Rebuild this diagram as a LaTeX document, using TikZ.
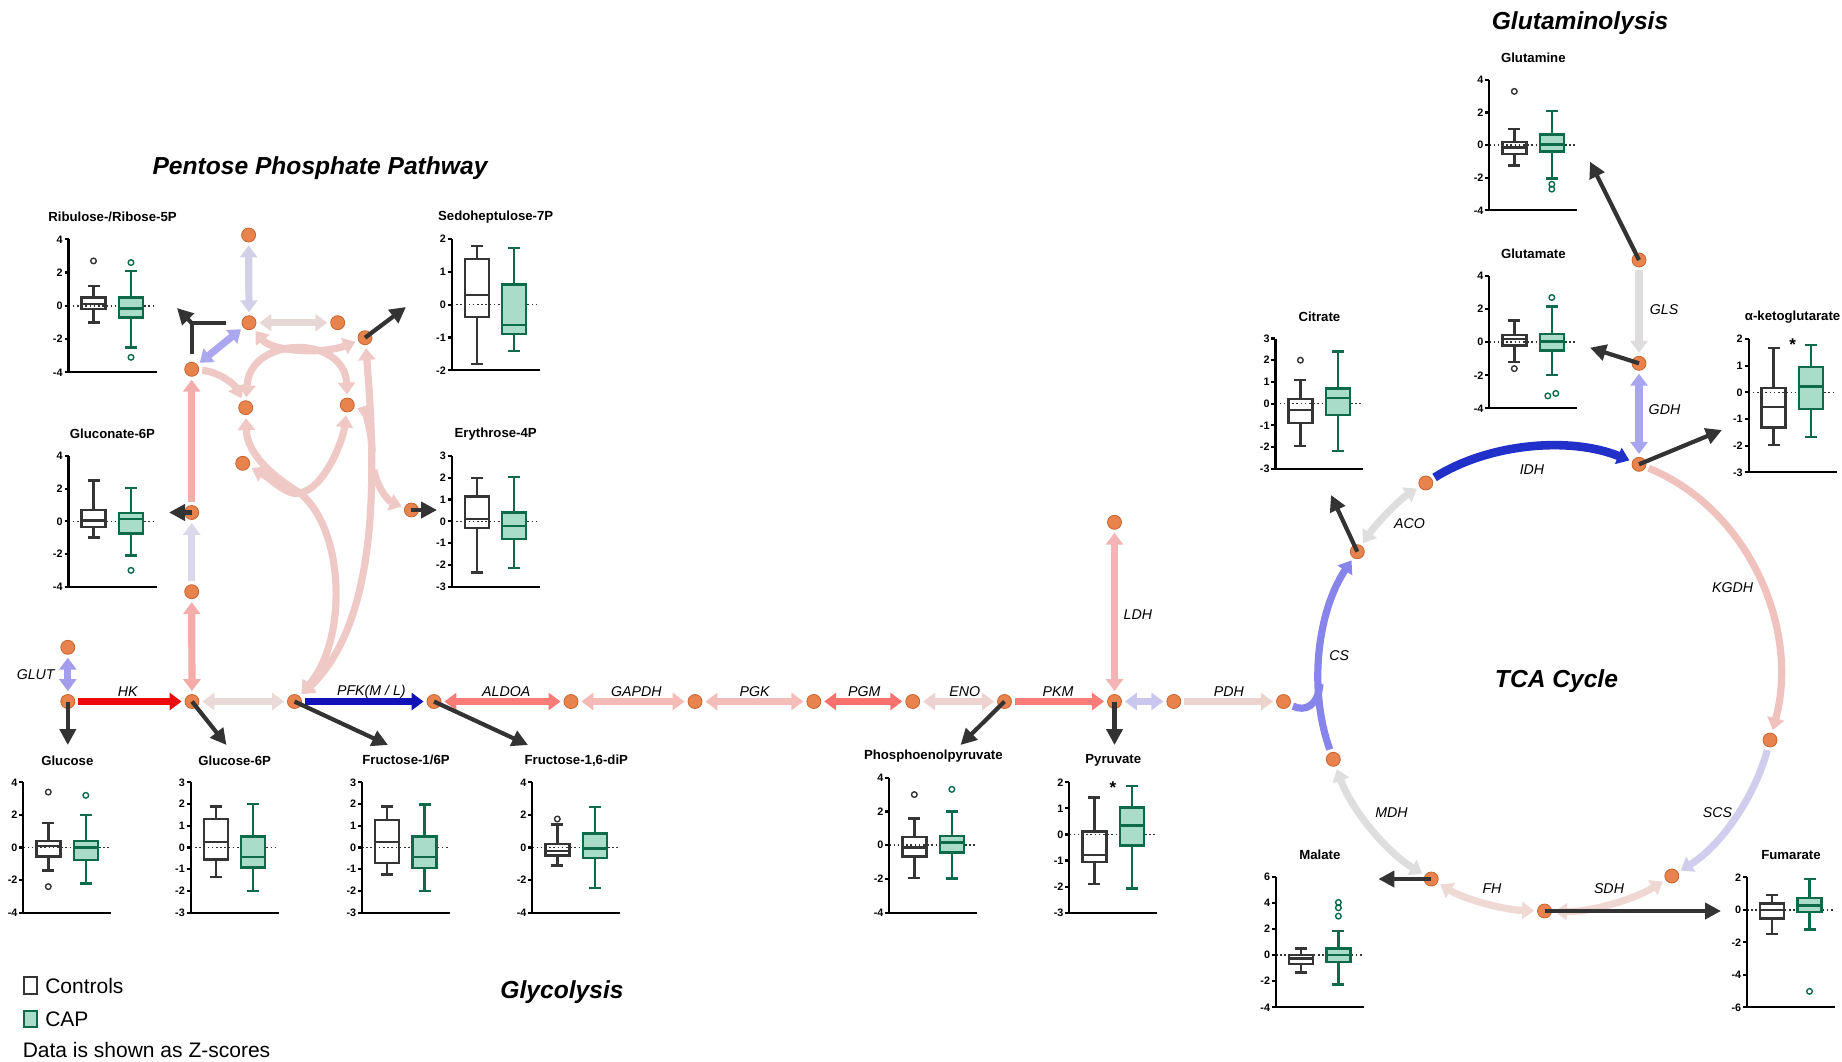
\documentclass[tikz,border=0pt]{standalone}
\usepackage{fontspec}
\setmainfont{Liberation Sans}
\usetikzlibrary{arrows.meta}

% metabolites and plot colours
\definecolor{metfill}{HTML}{E8834D}
\definecolor{metedge}{HTML}{C8642E}
\definecolor{arrdark}{HTML}{333333}
\definecolor{ctlc}{HTML}{353535}
\definecolor{capc}{HTML}{0E6B49}
\definecolor{capf}{HTML}{A9DCC9}
% enzyme colours
\definecolor{cGLUT}{HTML}{A29EEB}
\definecolor{cHK}{HTML}{EE0A0A}
\definecolor{cGPI}{HTML}{E9D9D7}
\definecolor{cPFK}{HTML}{1212B8}
\definecolor{cALDOA}{HTML}{F97C77}
\definecolor{cGAPDH}{HTML}{F3BAB6}
\definecolor{cPGK}{HTML}{F3BEBA}
\definecolor{cPGM}{HTML}{F8716C}
\definecolor{cENO}{HTML}{EDD2CF}
\definecolor{cPKM}{HTML}{F97C77}
\definecolor{cLDH}{HTML}{F2B4B4}
\definecolor{cMPC}{HTML}{C9C7EE}
\definecolor{cPDH}{HTML}{EDD3CE}
\definecolor{cCS}{HTML}{8784EC}
\definecolor{cACO}{HTML}{DEDEDE}
\definecolor{cIDH}{HTML}{2030C8}
\definecolor{cKGDH}{HTML}{F0C2BE}
\definecolor{cSCS}{HTML}{D0CEEC}
\definecolor{cSDH}{HTML}{EFD7D3}
\definecolor{cFH}{HTML}{EFD9D5}
\definecolor{cMDH}{HTML}{DEDEDE}
\definecolor{cGLS}{HTML}{DEDCDC}
\definecolor{cGDH}{HTML}{A8A6F0}
\definecolor{cPRPP}{HTML}{D2D0E8}
\definecolor{cRPE}{HTML}{E7D7D5}
\definecolor{cRPI}{HTML}{ABA7EF}
\definecolor{cPGD}{HTML}{F3AEAC}
\definecolor{cPGLS}{HTML}{DAD8EA}
\definecolor{cGsixPD}{HTML}{F4ACAA}
\definecolor{cTKT}{HTML}{EFC9C6}

\tikzset{
  met/.style={circle,fill=metfill,draw=metedge,line width=0.4pt,minimum size=7pt,inner sep=0pt},
  rx/.style={draw=#1,line width=3.6pt,shorten >=1.5pt,shorten <=1.5pt},
  fw/.style={-{Triangle[length=6pt,width=8.5pt]}},
  dbl/.style={{Triangle[length=6pt,width=8.5pt]}-{Triangle[length=6pt,width=8.5pt]}},
  blk/.style={draw=arrdark,line width=2.1pt,-{Triangle[length=8pt,width=8pt]}},
  blkline/.style={draw=arrdark,line width=2.1pt},
  enz/.style={font=\itshape\fontsize{7.1}{8}\selectfont,inner sep=0pt},
  ptitle/.style={font=\bfseries\fontsize{6.6}{7.5}\selectfont,inner sep=0pt},
  tlab/.style={font=\bfseries\fontsize{5.4}{6}\selectfont,anchor=east,inner sep=0pt},
  axisl/.style={draw=black,line width=1.1pt},
  zline/.style={draw=arrdark,line width=0.8pt,dash pattern=on 0.8pt off 1.3pt},
  bpK/.style={draw=ctlc,line width=1.2pt},
  bpKbox/.style={bpK},
  bpP/.style={draw=capc,line width=1.2pt},
  bpPbox/.style={bpP,fill=capf},
  olK/.style={circle,draw=ctlc,line width=0.7pt,minimum size=2.8pt,inner sep=0pt},
  olP/.style={circle,draw=capc,line width=0.7pt,minimum size=2.8pt,inner sep=0pt},
  ttl/.style={font=\bfseries\itshape\fontsize{12.3}{14}\selectfont,inner sep=0pt},
  leg/.style={font=\fontsize{10.5}{12}\selectfont,inner sep=0pt,anchor=west},
  sig/.style={font=\bfseries\fontsize{8.5}{9}\selectfont,inner sep=0pt},
}

% box-and-whisker panel: title, axis x, y of max, y of min, min, max, step
\newenvironment{bxpanel}[7]{%
  \node[ptitle] at (#2+44,#3-22) {#1};
  \pgfmathsetmacro\bxppu{(#4-#3)/(#6-#5)}%
  \pgfmathsetmacro\bxzero{#4+(#5)*\bxppu}%
  \pgfmathtruncatemacro\bxsec{#5+#7}%
  \begin{scope}[shift={(#2,\bxzero)},yscale=-\bxppu]
  \draw[zline] (0,0) -- (88,0);
  \draw[axisl] (0,#6) -- (0,#5) -- (88,#5);
  \foreach \tk in {#5,\bxsec,...,#6}{
    \draw[axisl] (-4,\tk) -- (0,\tk);
    \node[tlab] at (-5.5,\tk) {\pgfmathtruncatemacro\tkl{\tk}\tkl};
  }
}{\end{scope}}

% one box: group (K or P), x centre, low whisker, Q1, median, Q3, high whisker
\newcommand\bxbox[7]{%
  \draw[bp#1] (#2,#7) -- (#2,#6) (#2,#4) -- (#2,#3)
              (#2-6,#7) -- (#2+6,#7) (#2-6,#3) -- (#2+6,#3);
  \draw[bp#1box] (#2-12,#4) rectangle (#2+12,#6);
  \draw[bp#1] (#2-12,#5) -- (#2+12,#5);
}

\begin{document}
\begin{tikzpicture}[x=0.5pt,y=-0.5pt]
\useasboundingbox (0,0) rectangle (1842,1061);

% ---------------- metabolites ----------------
% glycolysis
\node[met] (glutop) at (67.8,647.3) {};
\node[met] (glc) at (67.8,701.5) {};
\node[met] (g6p) at (192,701.5) {};
\node[met] (f6p) at (294.5,701.5) {};
\node[met] (f16) at (434,701.5) {};
\node[met] (gap) at (571,701.5) {};
\node[met] (bpg) at (695,701.5) {};
\node[met] (pgc) at (813.8,701.5) {};
\node[met] (pgb) at (912.7,701.5) {};
\node[met] (pep) at (1004.5,701.5) {};
\node[met] (pyr) at (1114.5,701.5) {};
\node[met] (lac) at (1114.5,522.3) {};
\node[met] (pyrm) at (1173.8,701.5) {};
\node[met] (accoa) at (1283.5,701.5) {};
% pentose phosphate pathway
\node[met] (pgl) at (191.7,591.7) {};
\node[met] (gnt) at (191.7,512.5) {};
\node[met] (ru5p) at (191.7,369.3) {};
\node[met] (r5p) at (249,322.7) {};
\node[met] (prpp) at (248.6,235) {};
\node[met] (x5p) at (337.7,322.7) {};
\node[met] (s7p) at (365,337.7) {};
\node[met] (gtp) at (245.7,407.7) {};
\node[met] (tkd) at (347.3,405) {};
\node[met] (tke) at (242.7,463.3) {};
\node[met] (e4p) at (411.4,510) {};
% TCA cycle and glutaminolysis
\node[met] (oaa) at (1333.3,759.3) {};
\node[met] (cit) at (1357.3,551.7) {};
\node[met] (icit) at (1425.8,483) {};
\node[met] (akg) at (1639,464.3) {};
\node[met] (scoa) at (1770,740) {};
\node[met] (suc) at (1671.8,876) {};
\node[met] (fum) at (1544.5,911) {};
\node[met] (mal) at (1431.2,879) {};
\node[met] (gln) at (1639,260) {};
\node[met] (glu) at (1639,363.3) {};

% ---------------- reactions ----------------
\draw[rx=cGLUT,dbl] (glutop) -- (glc);
\draw[rx=cHK,fw] (glc) -- (g6p);
\draw[rx=cGPI,dbl] (g6p) -- (f6p);
\draw[rx=cPFK,fw] (f6p) -- (f16);
\draw[rx=cALDOA,dbl] (f16) -- (gap);
\draw[rx=cGAPDH,dbl] (gap) -- (bpg);
\draw[rx=cPGK,dbl] (bpg) -- (pgc);
\draw[rx=cPGM,dbl] (pgc) -- (pgb);
\draw[rx=cENO,dbl] (pgb) -- (pep);
\draw[rx=cPKM,fw] (pep) -- (pyr);
\draw[rx=cLDH,dbl] (lac) -- (pyr);
\draw[rx=cMPC,dbl] (pyr) -- (pyrm);
\draw[rx=cPDH,fw] (pyrm) -- (accoa);

% oxidative branch
\draw[rx=cGsixPD,dbl] (g6p) -- (pgl);
\draw[rx=cPGLS,fw] (pgl) -- (gnt);
\draw[rx=cPGD,fw] (gnt) -- (ru5p);
\draw[rx=cRPI,dbl] (ru5p) -- (r5p);
\draw[rx=cPRPP,dbl] (r5p) -- (prpp);
\draw[rx=cRPE,dbl] (r5p) -- (x5p);

% non-oxidative branch
\coordinate (jb) at (300,493);
\coordinate (jd) at (372,452);
\coordinate (je) at (374,470);
\draw[rx=cTKT,dbl] (r5p) .. controls (272,352) and (325,354) .. (s7p);
\draw[rx=cTKT,dbl] (gtp) .. controls (250,335) and (345,335) .. (tkd);
\draw[rx=cTKT,fw] (ru5p) .. controls (220,372) and (235,385) .. (gtp);
\draw[rx=cTKT,dbl] (gtp) .. controls (247,455) and (275,478) .. (jb) .. controls (345,530) and (348,640) .. (f6p);
\draw[rx=cTKT,dbl] (tke) .. controls (270,478) and (288,497) .. (jb) .. controls (325,488) and (343,440) .. (tkd);
\draw[rx=cTKT,dbl] (s7p) .. controls (376,470) and (380,620) .. (f6p);
\draw[rx=cTKT,fw,shorten <=0pt] (jd) .. controls (372,425) and (362,410) .. (tkd);
\draw[rx=cTKT,fw,shorten <=0pt] (je) .. controls (378,492) and (392,503) .. (e4p);

% TCA cycle
\coordinate (csj) at (1320,684);
\draw[rx=cCS,fw] (oaa) .. controls (1308.5,690.4) and (1316.7,612.6) .. (cit);
\draw[rx=cCS,shorten >=0pt] (accoa) .. controls (1305,712) and (1318,706) .. (csj);
\draw[rx=cACO,dbl] (cit) .. controls (1375.3,524.7) and (1398.4,500.3) .. (icit);
\draw[rx=cIDH,fw,line width=4.3pt] (icit) .. controls (1488.8,443.2) and (1570,436.3) .. (akg);
\draw[rx=cKGDH,fw] (akg) .. controls (1747.1,508.2) and (1800.4,627.3) .. (scoa);
\draw[rx=cSCS,fw] (scoa) .. controls (1754.7,796.6) and (1721.6,845.1) .. (suc);
\draw[rx=cSDH,dbl] (suc) .. controls (1633.4,899.8) and (1589.7,912.3) .. (fum);
\draw[rx=cFH,dbl] (fum) .. controls (1504.5,909.9) and (1465.4,899.7) .. (mal);
\draw[rx=cMDH,dbl] (mal) .. controls (1385.9,851.6) and (1351.2,809.1) .. (oaa);
\draw[rx=cGLS,fw] (gln) -- (glu);
\draw[rx=cGDH,dbl] (glu) -- (akg);

% ---------------- enzyme labels ----------------
\node[enz] at (35.7,675) {GLUT};
\node[enz] at (127.8,691.7) {HK};
\node[enz] at (371.4,691.7) {PFK(M / L)};
\node[enz] at (506.3,691.7) {ALDOA};
\node[enz] at (636.3,691.7) {GAPDH};
\node[enz] at (754.6,691.7) {PGK};
\node[enz] at (864.3,691.7) {PGM};
\node[enz] at (964.7,691.7) {ENO};
\node[enz] at (1058,691.7) {PKM};
\node[enz] at (1228.9,691.7) {PDH};
\node[enz,anchor=west] at (1123.3,615) {LDH};
\node[enz] at (1339.2,655.5) {CS};
\node[enz] at (1409.6,524) {ACO};
\node[enz] at (1532,470) {IDH};
\node[enz] at (1732.7,587.4) {KGDH};
\node[enz] at (1717.4,812.9) {SCS};
\node[enz] at (1609,888.3) {SDH};
\node[enz] at (1492,888.3) {FH};
\node[enz] at (1391.5,812.8) {MDH};
\node[enz] at (1664,309.3) {GLS};
\node[enz] at (1664.5,409.3) {GDH};

% ---------------- pathway titles ----------------
\node[ttl] at (320,168) {Pentose Phosphate Pathway};
\node[ttl] at (1580,23.5) {Glutaminolysis};
\node[ttl] at (1556.5,681.3) {TCA Cycle};
\node[ttl] at (562,992) {Glycolysis};

% ---------------- box plots ----------------
\begin{bxpanel}{Ribulose-/Ribose-5P}{68.5}{239.3}{372.3}{-4}{4}{2}
  \bxbox{K}{25}{-1}{-0.2}{0.1}{0.5}{1.2}
  \bxbox{P}{62.5}{-2.5}{-0.7}{-0.15}{0.5}{2.1}
  \node[olK] at (25,2.7) {};
  \node[olP] at (62.5,2.6) {};
  \node[olP] at (62.5,-3.1) {};
\end{bxpanel}
\begin{bxpanel}{Gluconate-6P}{68.5}{456}{586.7}{-4}{4}{2}
  \bxbox{K}{25}{-1}{-0.35}{0.05}{0.7}{2.5}
  \bxbox{P}{62.5}{-2.1}{-0.75}{0.15}{0.5}{2.05}
  \node[olP] at (62.5,-3) {};
\end{bxpanel}
\begin{bxpanel}{Sedoheptulose-7P}{451.7}{239}{370.3}{-2}{2}{1}
  \bxbox{K}{25}{-1.8}{-0.37}{0.3}{1.4}{1.78}
  \bxbox{P}{62.5}{-1.42}{-0.9}{-0.62}{0.62}{1.73}
\end{bxpanel}
\begin{bxpanel}{Erythrose-4P}{451.7}{456}{586.7}{-3}{3}{1}
  \bxbox{K}{25}{-2.35}{-0.3}{0.1}{1.15}{2.0}
  \bxbox{P}{62.5}{-2.15}{-0.8}{-0.2}{0.4}{2.05}
\end{bxpanel}
\begin{bxpanel}{Glucose}{23.3}{782.3}{912.7}{-4}{4}{2}
  \bxbox{K}{25}{-1.4}{-0.55}{0.1}{0.4}{1.5}
  \bxbox{P}{62.5}{-2.2}{-0.75}{0}{0.4}{2.0}
  \node[olK] at (25,3.4) {};
  \node[olK] at (25,-2.4) {};
  \node[olP] at (62.5,3.2) {};
\end{bxpanel}
\begin{bxpanel}{Glucose-6P}{190.7}{782.3}{912.7}{-3}{3}{1}
  \bxbox{K}{25}{-1.35}{-0.55}{0.25}{1.3}{1.88}
  \bxbox{P}{62.5}{-2}{-0.92}{-0.45}{0.5}{2}
\end{bxpanel}
\begin{bxpanel}{Fructose-1/6P}{362}{782.3}{912.7}{-3}{3}{1}
  \bxbox{K}{25}{-1.25}{-0.7}{0.25}{1.27}{1.88}
  \bxbox{P}{62.5}{-2}{-0.95}{-0.45}{0.5}{1.97}
\end{bxpanel}
\begin{bxpanel}{Fructose-1,6-diP}{532.3}{782.3}{912.7}{-4}{4}{2}
  \bxbox{K}{25}{-1.1}{-0.5}{-0.2}{0.2}{1.4}
  \bxbox{P}{62.5}{-2.5}{-0.65}{-0.05}{0.85}{2.5}
  \node[olK] at (25,1.75) {};
\end{bxpanel}
\begin{bxpanel}{Phosphoenolpyruvate}{889.3}{777.7}{912.7}{-4}{4}{2}
  \bxbox{K}{25}{-1.93}{-0.68}{-0.13}{0.5}{1.59}
  \bxbox{P}{62.5}{-1.97}{-0.42}{0.15}{0.54}{1.99}
  \node[olK] at (25,3.0) {};
  \node[olP] at (62.5,3.31) {};
\end{bxpanel}
\begin{bxpanel}{Pyruvate}{1069.3}{782.3}{912.7}{-3}{2}{1}
  \bxbox{K}{25}{-1.9}{-1.05}{-0.79}{0.11}{1.42}
  \bxbox{P}{62.5}{-2.07}{-0.42}{0.35}{1.03}{1.86}
  \node[sig] at (43.5,1.8) {*};
\end{bxpanel}
\begin{bxpanel}{Citrate}{1275.4}{338.5}{468.7}{-3}{3}{1}
  \bxbox{K}{25}{-1.95}{-0.88}{-0.3}{0.2}{1.08}
  \bxbox{P}{62.5}{-2.18}{-0.52}{0.27}{0.7}{2.4}
  \node[olK] at (25,2.0) {};
\end{bxpanel}
\begin{bxpanel}{Glutamine}{1489.3}{80}{210.3}{-4}{4}{2}
  \bxbox{K}{25}{-1.25}{-0.55}{-0.15}{0.2}{1}
  \bxbox{P}{62.5}{-2.05}{-0.4}{0.05}{0.65}{2.1}
  \node[olK] at (25,3.3) {};
  \node[olP] at (62.5,-2.4) {};
  \node[olP] at (62.5,-2.7) {};
\end{bxpanel}
\begin{bxpanel}{Glutamate}{1489.3}{276}{408.3}{-4}{4}{2}
  \bxbox{K}{25}{-1.2}{-0.2}{0.2}{0.45}{1.3}
  \bxbox{P}{62.5}{-2}{-0.5}{0.05}{0.5}{2.15}
  \node[olK] at (25,-1.6) {};
  \node[olP] at (62.5,2.7) {};
  \node[olP] at (58.5,-3.25) {};
  \node[olP] at (66.5,-3.1) {};
\end{bxpanel}
\begin{bxpanel}{α-ketoglutarate}{1748.6}{339}{472.3}{-3}{2}{1}
  \bxbox{K}{25}{-1.97}{-1.32}{-0.55}{0.17}{1.67}
  \bxbox{P}{62.5}{-1.67}{-0.63}{0.22}{0.95}{1.77}
  \node[sig] at (44,1.8) {*};
\end{bxpanel}
\begin{bxpanel}{Malate}{1275.9}{876.7}{1007.3}{-4}{6}{2}
  \bxbox{K}{25}{-1.33}{-0.69}{-0.26}{0.02}{0.51}
  \bxbox{P}{62.5}{-2.24}{-0.51}{0}{0.51}{1.86}
  \node[olP] at (62.5,4.03) {};
  \node[olP] at (62.5,3.62) {};
  \node[olP] at (62.5,2.98) {};
\end{bxpanel}
\begin{bxpanel}{Fumarate}{1747}{877.3}{1007.3}{-6}{2}{2}
  \bxbox{K}{25}{-1.47}{-0.54}{-0.01}{0.4}{0.91}
  \bxbox{P}{62.5}{-1.22}{-0.13}{0.26}{0.73}{1.88}
  \node[olP] at (62.5,-5.02) {};
\end{bxpanel}

% ---------------- links from metabolites to their plots ----------------
\coordinate (tglc) at (67.8,745);
\coordinate (tg6p) at (226.5,745);
\coordinate (tf6p) at (388,745);
\coordinate (tf16) at (528,745);
\coordinate (tpep) at (960.5,745);
\coordinate (tpyr) at (1114.5,745);
\coordinate (ts7p) at (406,307);
\coordinate (tgnt) at (169,512.5);
\coordinate (te4p) at (437,510);
\coordinate (tcit) at (1331,495);
\coordinate (tgln) at (1590,161.7);
\coordinate (tglu) at (1590,347.7);
\coordinate (takg) at (1722,430);
\coordinate (tmal) at (1378.4,879);
\coordinate (tfum) at (1721,911);
\draw[blk] (glc.center) -- (tglc);
\draw[blk] (g6p.center) -- (tg6p);
\draw[blk] (f6p.center) -- (tf6p);
\draw[blk] (f16.center) -- (tf16);
\draw[blk] (pep.center) -- (tpep);
\draw[blk] (pyr.center) -- (tpyr);
\draw[blk] (s7p.center) -- (ts7p);
\draw[blk] (gnt.center) -- (tgnt);
\draw[blk] (e4p.center) -- (te4p);
\draw[blk] (cit.center) -- (tcit);
\draw[blk] (gln.center) -- (tgln);
\draw[blk] (glu.center) -- (tglu);
\draw[blk] (akg.center) -- (takg);
\draw[blk] (mal.center) -- (tmal);
\draw[blk] (fum.center) -- (tfum);
% pentose-phosphate pointer
\coordinate (elv) at (191.7,354);
\coordinate (elc) at (191.7,323);
\coordinate (elh) at (225.5,323);
\coordinate (elt) at (177,308);
\draw[blkline] (elv) -- (elc) -- (elh);
\draw[blk] (elc) -- (elt);

% ---------------- legend ----------------
\draw[draw=ctlc,line width=1.1pt] (23.7,976.7) rectangle (36.7,994);
\node[leg] at (44.9,985.5) {Controls};
\draw[draw=capc,fill=capf,line width=1.1pt] (23.7,1010.7) rectangle (36.7,1027.3);
\node[leg] at (44.9,1019) {CAP};
\node[leg] at (22.4,1050) {Data is shown as Z-scores};
\end{tikzpicture}
\end{document}
